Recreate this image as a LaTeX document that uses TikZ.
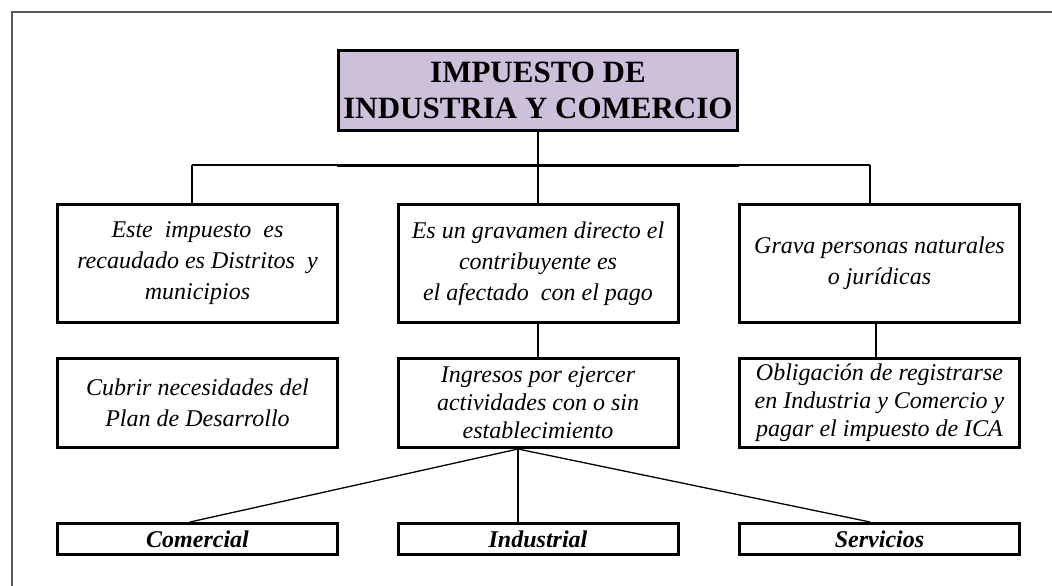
\documentclass[tikz,border=0pt]{standalone}
\usepackage{fontspec}
\setmainfont{Liberation Serif}
\usepackage{tikz}
\usetikzlibrary{positioning,calc}
\definecolor{lila}{RGB}{204,192,218}

\begin{document}
\begin{tikzpicture}[x=1pt,y=-1pt,
  caja/.style={draw,line width=3pt,minimum width=280pt,inner sep=0pt,align=center,
    font=\fontsize{24}{31}\selectfont\itshape},
  tipo/.style={caja,minimum height=31pt,font=\fontsize{24}{26}\selectfont\bfseries\itshape},
  enlace/.style={line width=1.3pt}]
  \useasboundingbox (0,0) rectangle (1052,586);

  % --- frame ---
  \draw[gray!70!black,line width=1.5pt] (1052,12) -- (12,12) -- (12,586);

  % --- title ---
  \node[draw,line width=3pt,fill=lila,minimum width=399pt,minimum height=80pt,inner sep=0pt,
    align=center,font=\fontsize{31}{36}\selectfont\bfseries] (titulo) at (538,90.5)
    {IMPUESTO DE\\INDUSTRIA Y COMERCIO};

  % --- first row ---
  \node[caja,minimum height=118pt] (recaudo) at (197.5,263.5)
    {Este~ impuesto~ es\\recaudado es Distritos~ y\\municipios};
  \node[caja,minimum height=118pt] (gravamen) at (538,263.5)
    {Es un gravamen directo el\\contribuyente es\\el afectado~ con el pago};
  \node[caja,minimum height=118pt] (personas) at (879.5,263.5)
    {Grava personas naturales\\o jurídicas};

  % --- second row ---
  \node[caja,minimum height=89pt] (plan) at (197.5,403)
    {Cubrir necesidades del\\Plan de Desarrollo};
  \node[caja,minimum height=89pt,font=\fontsize{24}{28}\selectfont\itshape] (ingresos) at (538,403)
    {Ingresos por ejercer\\actividades con o sin\\establecimiento};
  \node[caja,minimum height=89pt,font=\fontsize{24}{28}\selectfont\itshape] (registro) at (879.5,403)
    {Obligación de registrarse\\en Industria y Comercio y\\pagar el impuesto de ICA};

  % --- activities ---
  \node[tipo] (comercial) at (197.5,539) {Comercial};
  \node[tipo] (industrial) at (538,539) {Industrial};
  \node[tipo] (servicios) at (879.5,539) {Servicios};

  % --- bus under the title ---
  \coordinate (busL) at (192,165);
  \coordinate (busM) at (538,165);
  \coordinate (busR) at (870,165);
  \draw[enlace] (busL) -- (busR);
  \draw[line width=3pt] (titulo.south west |- busM) -- (titulo.south east |- busM);
  \draw[enlace] (titulo.south) -- (gravamen.north);
  \draw[enlace] (busL) -- (recaudo.north -| busL);
  \draw[enlace] (busR) -- (personas.north -| busR);

  % --- links between rows ---
  \draw[enlace] (gravamen.south) -- (ingresos.north);
  \draw[enlace] ([xshift=-3.5pt]personas.south) -- ([xshift=-3.5pt]registro.north);

  % --- fan to the activities ---
  \coordinate (fan) at ([xshift=-20pt]ingresos.south);
  \draw[enlace] (fan) -- ([xshift=-7.5pt]comercial.north);
  \draw[enlace] (fan) -- (industrial.north -| fan);
  \draw[enlace] (fan) -- ([xshift=-9.5pt]servicios.north);
\end{tikzpicture}
\end{document}
